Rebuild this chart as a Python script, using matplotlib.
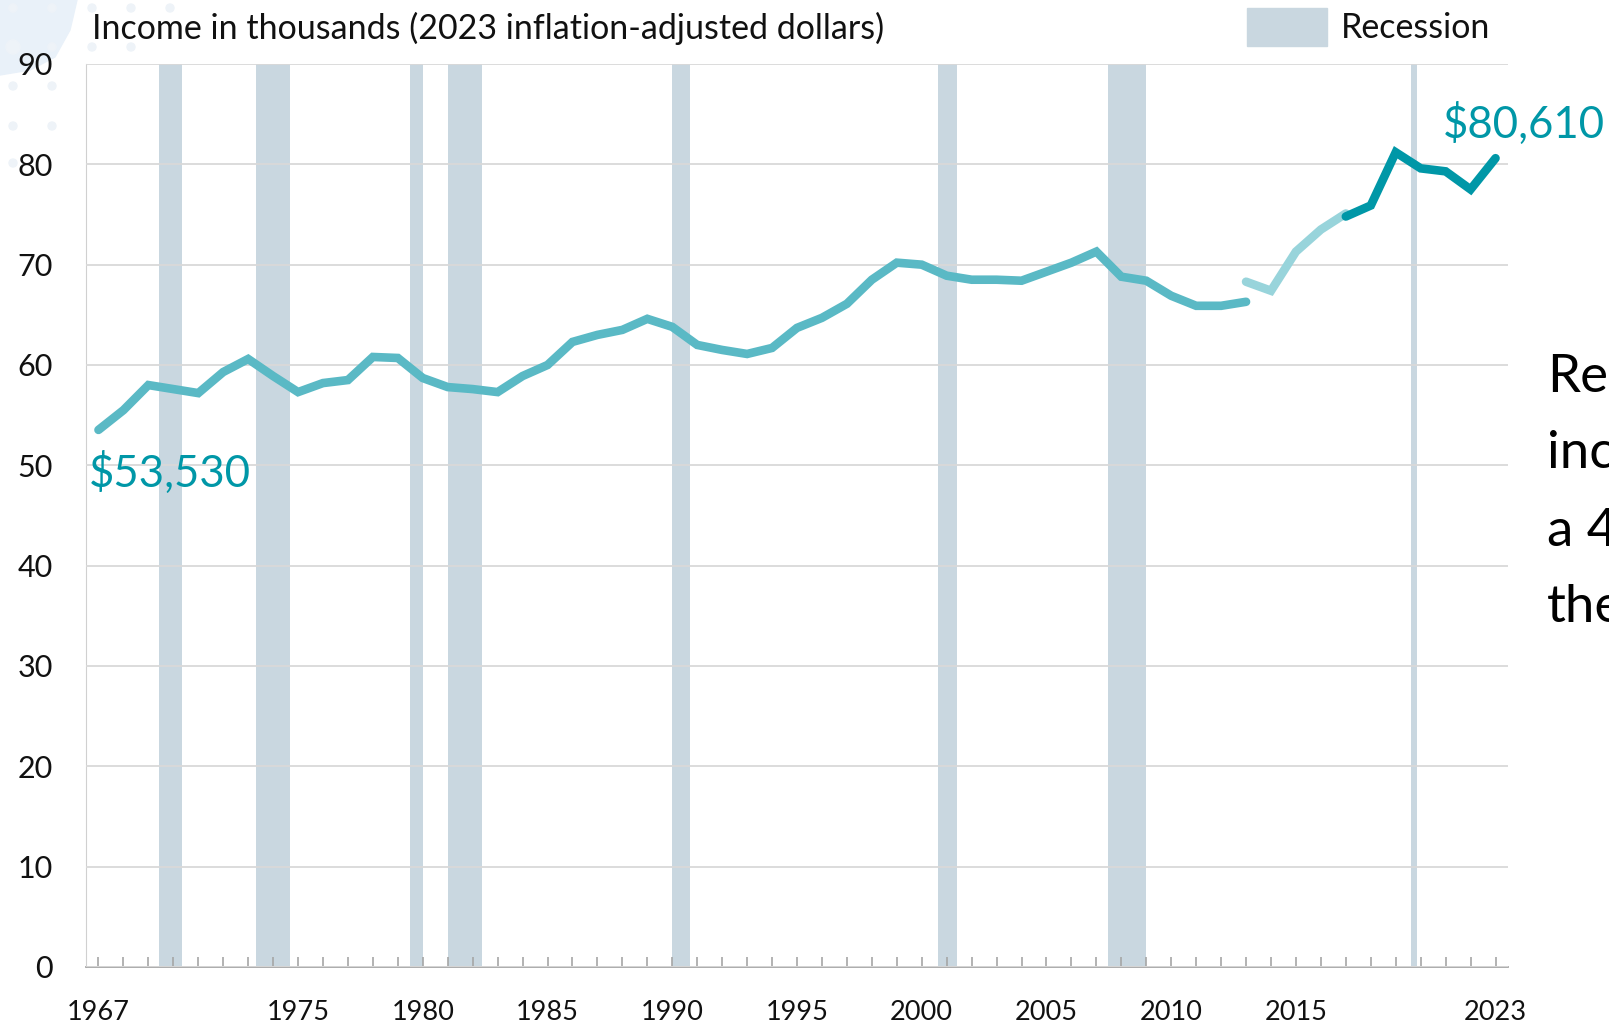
import matplotlib.pyplot as plt
import matplotlib.patches as mpatches

plt.rcParams['font.family'] = ['Lato', 'DejaVu Sans']

# median household income, thousands of 2023 dollars
years_a = list(range(1967, 2014))
income_a = [53.53, 55.5, 58.0, 57.6, 57.2, 59.3, 60.6, 58.9, 57.3, 58.2,
            58.5, 60.8, 60.7, 58.7, 57.8, 57.6, 57.3, 58.9, 60.0, 62.3,
            63.0, 63.5, 64.6, 63.8, 62.0, 61.5, 61.1, 61.7, 63.7, 64.7,
            66.1, 68.5, 70.2, 70.0, 68.9, 68.5, 68.5, 68.4, 69.3, 70.2,
            71.3, 68.8, 68.4, 66.9, 65.9, 65.9, 66.3]
years_b = list(range(2013, 2018))
income_b = [68.3, 67.4, 71.3, 73.5, 75.1]
years_c = list(range(2017, 2024))
income_c = [74.8, 75.9, 81.2, 79.6, 79.3, 77.5, 80.61]

# recession spans (chart year units)
recessions = [(1969.42, 1970.33), (1973.33, 1974.67), (1979.5, 1980.0),
              (1981.0, 1982.38), (1990.0, 1990.72), (2000.67, 2001.4),
              (2007.45, 2009.0), (2019.6, 2019.85)]

label_years = [1967, 1975, 1980, 1985, 1990, 1995, 2000, 2005, 2010, 2015, 2023]

W, H = 1609, 1025
fig = plt.figure(figsize=(W / 100, H / 100), dpi=100)
ax = fig.add_axes([86 / W, 1 - 967 / H, (1508 - 86) / W, (967 - 64) / H])

# top-left slide decoration
blob = mpatches.Polygon([(0, 1), (77 / W, 1), (70 / W, 1 - 30 / H), (55 / W, 1 - 57 / H),
                         (30 / W, 1 - 70 / H), (0, 1 - 75 / H)],
                        closed=True, transform=fig.transFigure, color='#e9f1f9', zorder=-5)
fig.patches.append(blob)
for (px, py, r) in [(13, 8, 4), (52, 8, 4), (92, 8, 4), (131, 8, 4), (170, 8, 4),
                    (13, 47, 7), (52, 47, 4), (92, 47, 4), (131, 47, 4),
                    (13, 86, 4), (52, 86, 4), (92, 86, 4), (13, 126, 4), (52, 126, 4), (13, 163, 4)]:
    fig.patches.append(mpatches.Ellipse((px / W, 1 - py / H), 2 * r / W, 2 * r / H,
                                        transform=fig.transFigure, color='#eef3f8', zorder=-4))

for s, e in recessions:
    ax.axvspan(s, e, color='#c9d7e0', lw=0, zorder=0.5)

ax.plot(years_a, income_a, color='#5ab9c5', lw=6.2, solid_capstyle='round',
        solid_joinstyle='miter', zorder=3)
ax.plot(years_b, income_b, color='#98d4db', lw=6.2, solid_capstyle='round',
        solid_joinstyle='miter', zorder=3)
ax.plot(years_c, income_c, color='#0097a7', lw=6.2, solid_capstyle='round',
        solid_joinstyle='miter', zorder=4)

ax.set_xlim(1966.5, 2023.5)
ax.set_ylim(0, 90)
ax.set_yticks(range(0, 91, 10))
ax.yaxis.grid(True, color='#d9d9d9', lw=1.3, zorder=1)
ax.set_axisbelow(False)
for gl in ax.get_ygridlines():
    gl.set_zorder(1)
ax.tick_params(axis='y', length=0, pad=24, labelsize=22, labelcolor='#111111')

ax.set_xticks(label_years)
ax.set_xticks(range(1967, 2024), minor=True)
ax.tick_params(axis='x', which='both', direction='in', length=7, color='#a6a6a6',
               width=1.2, pad=24, labelsize=19.5, labelcolor='#111111')

for side in ['top', 'right']:
    ax.spines[side].set_visible(False)
ax.spines['left'].set_color('#d0d0d0')
ax.spines['bottom'].set_color('#a6a6a6')
ax.spines['bottom'].set_linewidth(1.3)

ax.text(1966.62, income_a[0] - 4.3, '$53,530', color='#0097a7', fontsize=31.5,
        ha='left', va='center')
fig.text(1605 / W, 1 - 124 / H, '$80,610', color='#0097a7', fontsize=31.5,
         ha='right', va='center')

fig.text(92 / W, 1 - 28 / H, 'Income in thousands (2023 inflation-adjusted dollars)',
         fontsize=24.5, ha='left', va='center', color='#111111')
fig.patches.append(mpatches.Rectangle((1247 / W, 1 - 46 / H), 80 / W, 38 / H,
                                      transform=fig.transFigure, color='#c9d7e0'))
fig.text(1341 / W, 1 - 28 / H, 'Recession', fontsize=24.5, ha='left', va='center',
         color='#111111')

# side note cut off at the slide edge, as in the source slide
for i, line in enumerate(['Real', 'income', 'a 4.0%', 'the']):
    fig.text(1547 / W, 1 - (377 + i * 77) / H, line, fontsize=38, ha='left',
             va='center', color='#000000')

fig.savefig('out.png', dpi=100)
